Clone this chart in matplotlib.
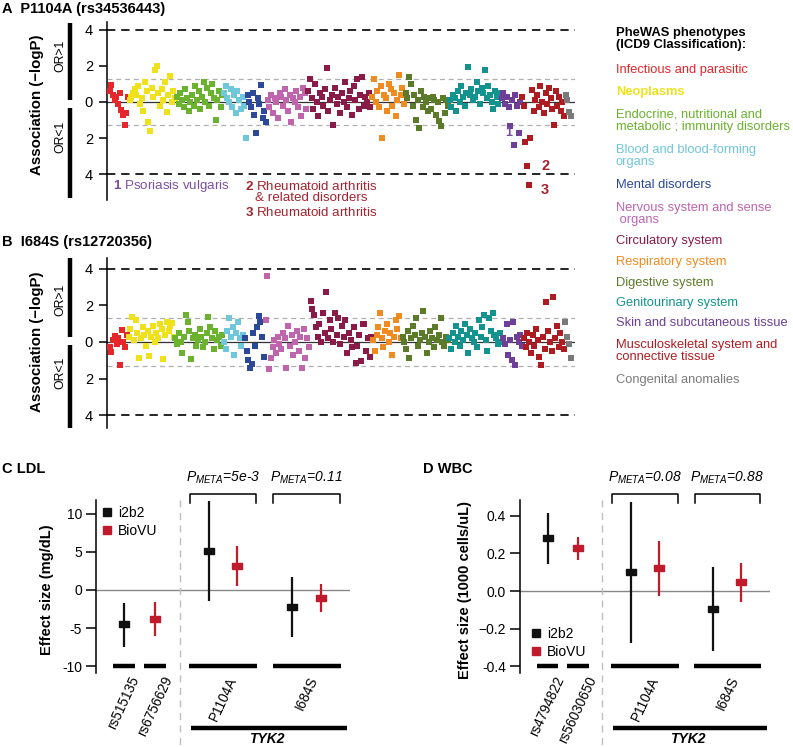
import numpy as np
import matplotlib.pyplot as plt
from matplotlib.lines import Line2D

plt.rcParams['font.family'] = ['Liberation Sans', 'DejaVu Sans']
plt.rcParams['mathtext.fontset'] = 'custom'
plt.rcParams['mathtext.rm'] = 'Liberation Sans'
plt.rcParams['mathtext.it'] = 'Liberation Sans:italic'
plt.rcParams['mathtext.bf'] = 'Liberation Sans:bold'

W, H = 793, 747

# ICD9 groups
cat_labels = ['Infectious and parasitic', 'Neoplasms',
              'Endocrine, nutritional and\nmetabolic ; immunity disorders',
              'Blood and blood-forming\norgans', 'Mental disorders',
              'Nervous system and sense\n organs', 'Circulatory system',
              'Respiratory system', 'Digestive system', 'Genitourinary system',
              'Skin and subcutaneous tissue',
              'Musculoskeletal system and\nconnective tissue', 'Congenital anomalies']
cat_colors = ['#e5262b', '#efe21b', '#6bb22f', '#6fc7dc', '#2c4898', '#c064ae', '#8a1a47',
              '#f08c1f', '#5b7b2a', '#13938f', '#6d3f98', '#ae1c21', '#7a7a7a']

# signed -log10 P (positive: OR>1, negative: OR<1), panel A P1104A
A_infectious = [0.6, 0.95, 0.4, 0.1, 0.25, -0.1, 0.5, -0.45, -0.7, -1.3, -0.6, 0.3]
A_neoplasms = [0.1, 0.3, 0.5, 0.7, 0.4, 0.9, -0.1, 0.2, -0.5, 1.1, 0.6, -1.1, -1.6, 0.8,
               0.3, 1.8, 2.0, 0.5, -0.2, 0.7, 0.1, 1.1, -0.55, 0.4, 1.45, 0.0, 0.6, 0.2]
A_endocrine = [0.3, -0.1, 0.5, 0.1, -0.3, 0.7, 0.2, -0.5, 0.0, 0.4, -0.2, 0.9, 0.1, 0.6,
               -0.4, 0.3, 1.1, 0.0, 0.8, -0.2, 0.5, 1.0, 0.2, -1.0, 0.1, 0.6, -0.3, 0.4]
A_blood = [0.5, 0.9, 0.2, 0.0, 0.7, -0.3, 0.4, -0.6, 0.6, 0.1, -0.4, 0.3, -0.2, -2.0]
A_mental = [0.4, 0.0, -0.3, 0.5, -0.7, -1.7, 0.2, -0.1, 0.95, -0.9, -0.5, -1.1]
A_nervous = [0.1, -0.3, 0.4, -0.6, 0.2, 0.0, -0.9, 0.5, 0.3, -0.2, 0.7, 0.1, -0.5, 0.4,
             -1.1, 0.2, 0.0, 0.6, -0.3, 0.3, -0.8, 0.8, 0.5, -0.4]
A_circulatory = [0.6, 1.3, 0.2, -0.4, 1.0, 0.0, -0.8, 0.5, 0.3, -0.2, 0.7, 1.9, -0.5, 0.1,
                 0.4, -1.3, 0.8, -0.1, 0.3, -0.6, 0.5, 0.0, 1.1, -0.3, 0.2, 0.6, -0.7, 0.9,
                 0.1, 1.3, -0.4, 0.4, 1.4, -0.2, 0.3, 0.0, 0.5, -0.3]
A_respiratory = [0.3, 1.3, 0.0, 0.6, -0.3, 0.9, -2.0, 0.4, 0.2, -0.5, 1.0, 0.7, -0.2, 0.5,
                 -0.8, 0.1, 1.5, 0.4, 0.8, -0.1]
A_digestive = [0.5, 0.2, 1.4, 1.0, -0.2, 0.4, -1.0, 0.1, -1.45, 0.6, -0.3, 0.3, 0.0, -0.5,
               0.2, -0.4, 0.3, 0.1, -0.7, 0.0, -1.05, -1.35, 0.2, -0.6, 0.1, -0.2]
A_genitourinary = [0.1, -0.3, 0.4, 0.2, -0.5, 0.6, 0.0, 0.9, 0.3, -0.2, 0.5, 1.93, 0.4, 0.7,
                   0.1, 0.3, 1.1, 0.6, -0.1, 0.8, 0.5, 1.78, 0.2, 0.9, 0.4, 0.0, -0.4, 0.6,
                   0.3, -0.1, 0.5]
A_skin = [0.2, 0.5, -0.1, 0.3, -0.3, -1.35, 0.1, -2.4, 0.4, -0.2, -1.7, 0.0]
A_musculo = [0.3, -0.2, -2.2, -3.55, -4.6, -2.0, 0.67, -0.5, 0.1, 0.4, -0.3, 0.9, 0.0, -0.6,
             0.5, -0.1, 0.78, 0.2, -0.4, -1.28, 0.6, -0.2, 0.3, -0.5, 0.0, -0.8]
A_congenital = [0.4, 0.1, -0.55, -0.8]

# panel B I684S
B_infectious = [-0.3, -0.55, 0.1, 0.35, -0.1, 0.2, -1.25, 0.65, 0.0, -0.3, 0.4]
B_neoplasms = [0.3, 0.7, 1.35, 0.1, 1.2, 0.5, -0.9, 0.2, 0.8, 0.4, -0.2, 0.6, -0.75, 0.3,
               0.9, 0.0, 0.5, 0.2, 1.0, 0.7, -0.95, 0.4, 1.1, 0.6, 0.9, 1.05, 0.3]
B_endocrine = [0.2, -0.1, 0.5, 0.0, -0.6, 0.3, 1.5, 1.1, 0.6, -0.95, 0.2, 0.4, -0.2, 0.1,
               0.7, 0.3, -0.3, 0.0, 0.5, 1.35, 0.8, 0.2, -0.4, 0.6, 0.1, 0.3, -0.2, 0.4]
B_blood = [0.0, -0.4, 0.6, 1.3, 0.3, 0.8, -0.7, 0.5, 1.1, 0.2, -0.2, 0.4]
B_mental = [0.2, -0.5, -1.0, -1.45, -1.2, 0.5, -0.2, 0.8, 1.45, 1.1, 0.3, -0.8]
B_nervous = [1.2, 3.6, -1.5, -0.9, -0.3, 0.1, -0.6, 0.3, -0.1, -0.4, 0.5, 0.2, -1.4, 0.9,
             -0.2, 0.4, -0.7, 0.0, 0.6, -0.5, 0.3, -1.4, 0.7, -0.9, 0.2, -0.3]
B_circulatory = [2.25, 1.8, 1.5, 0.8, 0.3, 1.0, 0.0, 1.6, 0.5, 2.75, 0.2, 1.2, 0.7, 0.0,
                 1.6, 0.4, 1.3, -0.1, 0.9, 0.3, 1.2, -0.6, 0.5, 0.1, -0.3, 0.8, -1.15, -0.2,
                 0.4, -1.05, 1.0, 1.0, -0.5, 0.2, -0.8, 0.3]
B_respiratory = [0.1, -0.5, 0.4, 0.8, 1.6, 0.2, -0.3, 0.6, 1.0, 0.0, 0.5, -0.7, 0.3, 1.2,
                 0.7, 1.4, 0.2]
B_digestive = [0.3, 0.0, -0.4, 0.6, -0.9, 0.2, 0.9, 0.4, 1.3, -0.2, 0.1, 0.5, 1.7, 0.3,
               -0.6, 0.0, 0.6, 0.2, -0.3, 0.8, 0.1, 0.4, 1.3, 0.0, -0.2, 0.3, 0.1]
B_genitourinary = [0.2, -0.4, 0.5, 0.0, 0.9, 0.3, -0.2, 0.6, 0.1, 1.0, 0.4, -0.6, 0.7, 0.2,
                   0.0, 0.5, -0.3, 1.2, 0.3, 0.8, 1.5, 0.1, -0.5, 1.3, 0.6, 1.6, 0.4, 0.2,
                   -0.1, 0.5, 0.0]
B_skin = [0.2, -0.1, 1.0, -0.7, 0.1, -1.0, 1.1, -1.25, 0.3, 0.0, 0.4, -0.2]
B_musculo = [0.2, -0.3, 0.5, 0.0, -0.6, 0.4, -0.2, 0.7, 0.1, -0.8, -1.25, 0.3, -0.4, 2.2,
             0.6, 0.0, -0.5, 2.45, 0.2, 0.9, -0.3, 0.5, 0.0, -0.4]
B_congenital = [1.1, 0.3, -0.1, -0.85]

A_groups = [A_infectious, A_neoplasms, A_endocrine, A_blood, A_mental, A_nervous,
            A_circulatory, A_respiratory, A_digestive, A_genitourinary, A_skin,
            A_musculo, A_congenital]
B_groups = [B_infectious, B_neoplasms, B_endocrine, B_blood, B_mental, B_nervous,
            B_circulatory, B_respiratory, B_digestive, B_genitourinary, B_skin,
            B_musculo, B_congenital]

# LDL effect sizes (mg/dL)
C_snps = ['rs515135', 'rs6756629', 'P1104A', 'I684S']
C_i2b2 = [-4.5, np.nan, 5.1, -2.2]
C_i2b2_lo = [-7.5, np.nan, -1.4, -6.2]
C_i2b2_hi = [-1.7, np.nan, 11.7, 1.7]
C_biovu = [np.nan, -3.8, 3.2, -1.1]
C_biovu_lo = [np.nan, -6.1, 0.5, -2.9]
C_biovu_hi = [np.nan, -1.6, 5.8, 0.8]
C_pmeta = ['5e-3', '0.11']

# WBC effect sizes (1000 cells/uL)
D_snps = ['rs4794822', 'rs56030650', 'P1104A', 'I684S']
D_i2b2 = [0.283, np.nan, 0.10, -0.096]
D_i2b2_lo = [0.144, np.nan, -0.277, -0.32]
D_i2b2_hi = [0.416, np.nan, 0.475, 0.128]
D_biovu = [np.nan, 0.229, 0.123, 0.048]
D_biovu_lo = [np.nan, 0.165, -0.027, -0.059]
D_biovu_hi = [np.nan, 0.288, 0.267, 0.149]
D_pmeta = ['0.08', '0.88']


def fx(x):
    return x / W


def fy(y):
    return 1 - y / H


fig = plt.figure(figsize=(W / 100, H / 100), dpi=100)


def phewas(rect, groups, ylim, bars, orpos, ylab_y):
    ax = fig.add_axes(rect)
    x0 = 0
    for vals, col in zip(groups, cat_colors):
        x = x0 + np.arange(len(vals))
        ax.scatter(x, vals, s=19, marker='s', color=col, lw=0, zorder=3)
        x0 += len(vals)
    ax.set_xlim(-1.5, x0 + 1.5)
    ax.set_ylim(*ylim)
    ax.axhline(0, color='#333333', lw=0.9, zorder=1)
    for v in (4, -4):
        ax.axhline(v, color='k', lw=1.2, ls=(0, (5, 3.5)), zorder=1)
    for v in (1.3, -1.3):
        ax.axhline(v, color='#b0b0b0', lw=0.9, ls=(0, (4, 3)), zorder=1)
    for s in ['top', 'right', 'bottom']:
        ax.spines[s].set_visible(False)
    ax.spines['left'].set_linewidth(1.1)
    ax.set_xticks([])
    ax.set_yticks([4, 2, 0, -2, -4], ['4', '2', '0', '2', '4'])
    ax.tick_params(axis='y', length=6, width=1.1, labelsize=10.5, pad=4)
    tr = ax.get_yaxis_transform()
    for (lo, hi) in bars:
        ax.plot([-0.079, -0.079], [lo, hi], transform=tr, color='k', lw=3.2,
                solid_capstyle='butt', clip_on=False)
    ax.text(-0.1, orpos[0], 'OR>1', transform=tr, rotation=90, ha='center', va='center',
            fontsize=8.8)
    ax.text(-0.1, orpos[1], 'OR<1', transform=tr, rotation=90, ha='center', va='center',
            fontsize=8.8)
    fig.text(fx(37), fy(ylab_y), 'Association (\u2212logP)', rotation=90, ha='center',
             va='center', fontsize=10.8, fontweight='bold')
    return ax


axA = phewas([fx(107), fy(200), 468 / W, 178 / H], A_groups, (-5.44, 4.44),
             [(0.11, 4.39), (-0.33, -5.33)], (2.55, -1.94), 105)
axB = phewas([fx(107), fy(428), 468 / W, 170 / H], B_groups, (-4.71, 4.6),
             [(0.27, 4.6), (-0.16, -4.71)], (2.3, -1.7), 342)

fig.text(fx(2), fy(9), 'A  P1104A (rs34536443)', fontsize=10.5, fontweight='bold',
         va='center')
fig.text(fx(2), fy(242), 'B  I684S (rs12720356)', fontsize=10.5, fontweight='bold',
         va='center')

# annotations on panel A
purple_t = '#7b4fa3'
red_t = '#a3232f'
fig.text(fx(113), fy(186), r'$\mathbf{1}$ Psoriasis vulgaris', color=purple_t,
         fontsize=9.6, va='center')
fig.text(fx(245), fy(186), r'$\mathbf{2}$ Rheumatoid arthritis', color=red_t,
         fontsize=9.6, va='center')
fig.text(fx(255), fy(198), '& related disorders', color=red_t, fontsize=9.6, va='center')
fig.text(fx(245), fy(212), r'$\mathbf{3}$ Rheumatoid arthritis', color=red_t,
         fontsize=9.6, va='center')
fig.text(fx(509), fy(133), '1', color=purple_t, fontsize=9, fontweight='bold',
         ha='center', va='center')
fig.text(fx(541), fy(166), '2', color=red_t, fontsize=10.5, fontweight='bold', va='center')
fig.text(fx(541), fy(190), '3', color=red_t, fontsize=10.5, fontweight='bold', va='center')

# category key
fig.text(fx(616), fy(39), 'PheWAS phenotypes\n(ICD9 Classification):', fontsize=9.4,
         fontweight='bold', va='center', linespacing=1.1)
key_y = [70, 92, 121, 156, 185, 214, 241, 262, 283, 303, 323, 351, 380]
for lab, col, yy in zip(cat_labels, cat_colors, key_y):
    fig.text(fx(616), fy(yy), lab, color=col, fontsize=9.3, va='center', linespacing=1.05,
             fontweight='bold' if lab == 'Neoplasms' else 'normal')

# effect size panels
centers = [0.87, 1.83, 3.95, 6.55]
dodge = [0.0, 0.0, 0.44, 0.44]
bar_half = [0.33, 0.34, 1.06, 1.06]
rect_marker = [(-1.6, -1), (1.6, -1), (1.6, 1), (-1.6, 1), (-1.6, -1)]
blk = '#111111'
red = '#c01a2c'


def effect(rect, snps, i_est, i_lo, i_hi, b_est, b_lo, b_hi, pmeta, ylim, yticks,
           yticklabels, ylab, unit, title, title_x, ylab_x, leg_anchor):
    ax = fig.add_axes(rect)
    c = np.array(centers)
    d = np.array(dodge)
    xi = c - d
    xb = c + d
    ax.vlines(xi, i_lo, i_hi, color=blk, lw=1.6, zorder=3)
    ax.plot(xi, i_est, ls='none', marker=rect_marker, ms=7.5, color=blk, zorder=4)
    ax.vlines(xb, b_lo, b_hi, color=red, lw=1.6, zorder=3)
    ax.plot(xb, b_est, ls='none', marker=rect_marker, ms=7.5, color=red, zorder=4)
    ax.axhline(0, color='#888888', lw=1, zorder=1)
    ax.set_xlim(0, 7.9)
    ax.set_ylim(*ylim)
    # thick bars under each SNP
    ybar = yticks[0]
    ax.hlines([ybar] * 4, c - np.array(bar_half), c + np.array(bar_half), color='k', lw=3.2,
              clip_on=False)
    # TYK2 bar
    ax.plot([2.95, 7.8], [-728 * unit[1] + unit[0]] * 2, color='k', lw=3.2, clip_on=False,
            solid_capstyle='butt')
    ax.text(5.3, -739 * unit[1] + unit[0], 'TYK2', fontsize=10, fontweight='bold',
            style='italic', ha='center', va='center')
    # brackets with meta p-values
    y_top = -494 * unit[1] + unit[0]
    y_tip = -503 * unit[1] + unit[0]
    y_txt = -478 * unit[1] + unit[0]
    for cc, p in zip(centers[2:], pmeta):
        ax.plot([cc - 1.03, cc - 1.03, cc + 1.03, cc + 1.03], [y_tip, y_top, y_top, y_tip],
                color='k', lw=1.1, clip_on=False)
        ax.text(cc, y_txt, r'$P_{META}$' + '=' + p, style='italic', fontsize=10,
                ha='center', va='center', clip_on=False)
    # separator
    ax.plot([2.6, 2.6], [1.0, -0.46], transform=ax.get_xaxis_transform(), color='#bdbdbd',
            lw=1, ls=(0, (5, 4)), clip_on=False)
    for s in ['top', 'right', 'bottom']:
        ax.spines[s].set_visible(False)
    ax.spines['left'].set_linewidth(1.1)
    ax.set_yticks(yticks, yticklabels)
    ax.tick_params(axis='y', length=7, width=1.1, labelsize=10, pad=3)
    ax.set_xticks(centers, snps, rotation=65, fontsize=9.8)
    ax.tick_params(axis='x', length=0, pad=1)
    fig.text(ylab_x, fy(590), ylab, rotation=90, ha='center', va='center', fontsize=10.5,
             fontweight='bold')
    fig.text(title_x, fy(469), title, fontsize=10.5, fontweight='bold', va='center')
    handles = [Line2D([], [], ls='none', marker='s', ms=5.5, color=blk),
               Line2D([], [], ls='none', marker='s', ms=5.5, color=red)]
    ax.legend(handles, ['i2b2', 'BioVU'], loc='upper left', bbox_to_anchor=leg_anchor,
              frameon=False, fontsize=10, handlelength=0.8, handletextpad=0.4,
              labelspacing=0.3, borderaxespad=0)
    return ax


# unit = (value offset, value per pixel) so that value = -px*per + offset
C_per = 1 / 7.6
D_per = 1 / 187.5
axC = effect([fx(96), fy(673), 254 / W, 173 / H], C_snps, C_i2b2, C_i2b2_lo, C_i2b2_hi,
             C_biovu, C_biovu_lo, C_biovu_hi, C_pmeta, (-10.9, 11.8),
             [-10, -5, 0, 5, 10], ['-10', '-5', '0', '5', '10'], 'Effect size (mg/dL)',
             (590 * C_per, C_per), 'C LDL', fx(2), fx(47), (0.0, 1.0))
axD = effect([fx(520), fy(673), 250 / W, 173 / H], D_snps, D_i2b2, D_i2b2_lo, D_i2b2_hi,
             D_biovu, D_biovu_lo, D_biovu_hi, D_pmeta, (-0.437, 0.485),
             [-0.4, -0.2, 0.0, 0.2, 0.4], ['-0.4', '\u22120.2', '0.0', '0.2', '0.4'],
             'Effect size (1000 cells/uL)', (591 * D_per, D_per), 'D WBC', fx(423), fx(465),
             (0.02, 0.30))

fig.savefig('out.png', dpi=100)
